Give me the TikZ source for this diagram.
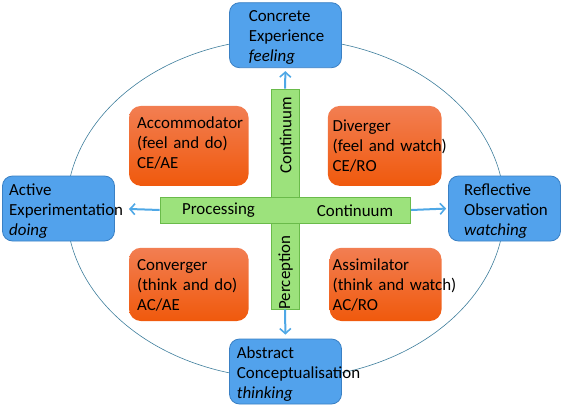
\documentclass[tikz,border=0pt]{standalone}
\usepackage{fontspec}
\setmainfont{Carlito}
\usetikzlibrary{arrows.meta}
\definecolor{bluefill}{HTML}{52A2EC}
\definecolor{blueline}{HTML}{3A80C4}
\definecolor{orangetop}{HTML}{F27E52}
\definecolor{orangebot}{HTML}{F0590C}
\definecolor{greenfill}{HTML}{9CE27C}
\definecolor{greenline}{HTML}{6ABB4A}
\definecolor{arrowblue}{HTML}{4FA8E6}
\definecolor{ringcol}{HTML}{3E7E9C}
\begin{document}
\begin{tikzpicture}[x=1pt,y=-1pt,
  bluebox/.style={draw=blueline,line width=0.8pt,fill=bluefill,rounded corners=10pt,minimum width=112pt,minimum height=65pt,inner sep=0pt},
  orangebox/.style={rounded corners=12pt,top color=orangetop,bottom color=orangebot,draw=none,minimum height=80pt,inner sep=0pt},
  greenbar/.style={draw=greenline,line width=0.8pt,fill=greenfill,inner sep=0pt},
  txt/.style={font=\fontsize{16.9}{20}\selectfont,text=black,inner sep=0pt,align=left,text width=150pt,anchor=base west},
  ctxt/.style={font=\fontsize{16.9}{20}\selectfont,text=black,inner sep=0pt},
  arr/.style={draw=arrowblue,line width=2pt,-{Straight Barb[length=5pt,width=11pt,line width=1.6pt]}}
]
\useasboundingbox (0,0) rectangle (563,407);
\draw[ringcol,line width=0.6pt] (285.5,208.5) ellipse [x radius=219, y radius=170];

% quadrant boxes
\node[orangebox,minimum width=119.6pt] (acc) at (188.8,145.9) {};
\node[orangebox,minimum width=113.8pt] (div) at (384.7,145.9) {};
\node[orangebox,minimum width=119.6pt,minimum height=73.3pt] (con) at (188.8,284.4) {};
\node[orangebox,minimum width=112pt,minimum height=73.3pt] (ass) at (385.6,284.4) {};

% bars
\node[greenbar,minimum width=28pt,minimum height=220pt] (vbar) at (285,199) {};
\node[greenbar,minimum width=250.7pt,minimum height=26pt] (hbar) at (285.35,210) {};

% mode boxes
\node[bluebox] (ce) at (285.5,35.2) {};
\node[bluebox] (ae) at (58.5,208.5) {};
\node[bluebox] (ro) at (504.5,208.5) {};
\node[bluebox] (ac) at (285.5,371.5) {};

% arrows
\draw[arr,shorten >=3pt] (vbar.north) -- (ce.south);
\draw[arr,shorten >=4pt] (vbar.south) -- (ac.north);
\draw[arr,shorten >=14pt] (hbar.west) -- (ae.east);
\draw[arr,shorten >=2pt] (hbar.east) -- (ro.west);

% texts
\node[txt] (cet) at (248.6,21.7) {Concrete\\Experience\\\textit{feeling}};
\node[txt] (aet) at (9,195) {Active\\Experimentation\\\textit{doing}};
\node[txt] (rot) at (464,195) {Reflective\\Observation\\\textit{watching}};
\node[txt] (act) at (236.7,358) {Abstract\\Conceptualisation\\\textit{thinking}};

\node[txt] (acct) at (137,128) {Accommodator\\(feel and do)\\CE/AE};
\node[txt] (divt) at (332.5,131.7) {Diverger\\(feel and watch)\\CE/RO};
\node[txt] (cont) at (137,270) {Converger\\(think and do)\\AC/AE};
\node[txt] (asst) at (332.5,270) {Assimilator\\(think and watch)\\AC/RO};

\node[ctxt] (proc) at (218.5,210.5) {Processing};
\node[ctxt] (cont2) at (355,210.5) {Continuum};
\node[ctxt,rotate=90] (vcont) at (285.6,135) {Continuum};
\node[ctxt,rotate=90] (perc) at (285.6,272.5) {Perception};
\end{tikzpicture}
\end{document}
